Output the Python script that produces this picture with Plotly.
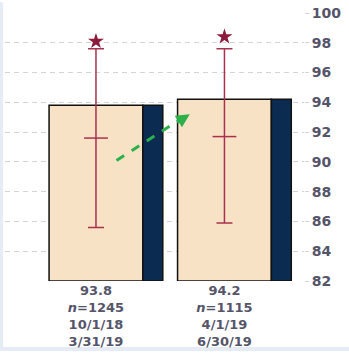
import plotly.graph_objects as go

# ---- data ----
values = [93.8, 94.2]
n_counts = [1245, 1115]
start_dates = ["10/1/18", "4/1/19"]
end_dates = ["3/31/19", "6/30/19"]
ci_low = [85.6, 85.9]
ci_high = [97.6, 97.6]
ci_mid = [91.6, 91.7]
star_vals = [98.1, 98.4]
trend_y = [90.1, 93.1]
y_ticks = [82, 84, 86, 88, 90, 92, 94, 96, 98, 100]

base = 82
xs = list(range(len(values)))
tan_w = 0.73
navy_w = 0.155
navy_off = tan_w / 2 + navy_w / 2

tan = "#f8e2c6"
navy = "#0b2c50"
red = "#a8324e"
star_c = "#8b1c3c"
green = "#2bb04a"
txt = "#55556a"

fig = go.Figure()
fig.add_trace(go.Bar(
    x=xs, y=[v - base for v in values], base=base, width=tan_w,
    marker=dict(color=tan, line=dict(color="#111111", width=1.5)),
    hoverinfo="skip"))
fig.add_trace(go.Bar(
    x=[x + navy_off for x in xs], y=[v - base for v in values], base=base, width=navy_w,
    marker=dict(color=navy, line=dict(color="#111111", width=1.5)),
    hoverinfo="skip"))
fig.add_trace(go.Scatter(
    x=xs, y=ci_mid, mode="markers",
    marker=dict(symbol="line-ew", size=17, line=dict(color=red, width=1.5)),
    error_y=dict(type="data", symmetric=False,
                 array=[h - m for h, m in zip(ci_high, ci_mid)],
                 arrayminus=[m - l for m, l in zip(ci_mid, ci_low)],
                 color=red, thickness=1.5, width=8)))
fig.add_trace(go.Scatter(
    x=xs, y=star_vals, mode="markers",
    marker=dict(symbol="star", size=12, color=star_c, line=dict(width=0))))
fig.add_trace(go.Scatter(
    x=[0.16, 0.70], y=trend_y, mode="lines",
    line=dict(color=green, width=3, dash="dash")))
fig.add_annotation(x=0.73, y=trend_y[1] + 0.1, ax=0.62, ay=trend_y[1] - 0.5,
                   xref="x", yref="y", axref="x", ayref="y",
                   showarrow=True, arrowhead=2, arrowsize=0.9, arrowwidth=3,
                   arrowcolor=green, text="")

# faint frame edges seen in the reference
fig.add_shape(type="rect", xref="paper", yref="paper", x0=-5 / 299, x1=-2 / 299,
              y0=-71 / 272, y1=(272 + 11) / 272, fillcolor="#e6ecf6", line=dict(width=0),
              layer="below")
fig.add_shape(type="rect", xref="paper", yref="paper", x0=-5 / 299, x1=(299 + 45) / 299,
              y0=-71 / 272, y1=-67 / 272, fillcolor="#e6ecf6", line=dict(width=0),
              layer="below")

ticktext = [f"{v}<br><i>n</i>={n}<br>{s}<br>{e}"
            for v, n, s, e in zip(values, n_counts, start_dates, end_dates)]

fig.update_layout(
    width=349, height=354,
    margin=dict(l=5, r=45, t=11, b=71),
    paper_bgcolor="white", plot_bgcolor="white",
    showlegend=False, barmode="overlay",
    font=dict(family="DejaVu Sans", size=13, color=txt),
    xaxis=dict(range=[-0.708, 1.619], tickvals=xs, ticktext=ticktext,
               showgrid=False, zeroline=False, showline=False, ticks="",
               tickfont=dict(family="DejaVu Sans", size=13, color=txt, weight="bold")),
    yaxis=dict(range=[82, 100], side="right", tickvals=y_ticks,
               showgrid=True, gridcolor="#d4d4d4", griddash="5px,4px", gridwidth=1,
               zeroline=False, showline=False,
               ticks="outside", ticklen=4, tickcolor="#d4d4d4",
               tickfont=dict(family="DejaVu Sans", size=14, color=txt, weight="bold")),
)
fig.write_html("out.html")
